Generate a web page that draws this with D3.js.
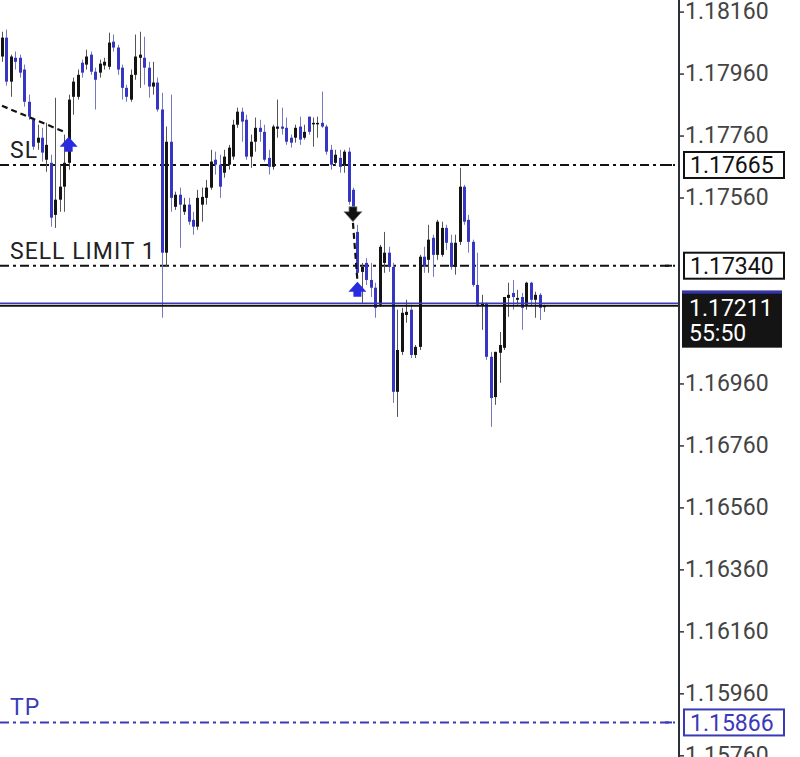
<!DOCTYPE html>
<html><head><meta charset="utf-8">
<script src="https://cdn.jsdelivr.net/npm/d3@7"></script>
<style>html,body{margin:0;padding:0;background:#fff;}svg{display:block;font-family:Roboto,"Noto Sans",sans-serif;}</style>
</head><body>
<svg id="chart" width="800" height="757"></svg>
<script>
const openP = [1.18015,1.18076,1.17934,1.18011,1.18011,1.17973,1.17869,1.17811,1.17737,1.17753,
1.17682,1.17672,1.17504,1.17553,1.17595,1.17672,1.17885,1.17885,1.17995,1.17989,
1.18021,1.17966,1.17963,1.17986,1.17982,1.18063,1.18044,1.17979,1.17914,1.17876,
1.17956,1.18011,1.18011,1.17979,1.17918,1.17931,1.17844,1.17382,1.17740,1.17530,
1.17569,1.17514,1.17537,1.17488,1.17466,1.17537,1.17559,1.17592,1.17682,1.17666,
1.17640,1.17666,1.17692,1.17795,1.17837,1.17811,1.17692,1.17740,1.17785,1.17772,
1.17688,1.17659,1.17782,1.17789,1.17785,1.17753,1.17753,1.17789,1.17753,1.17821,
1.17798,1.17798,1.17801,1.17789,1.17714,1.17672,1.17688,1.17666,1.17708,1.17585,
1.17449,1.17320,1.17349,1.17294,1.17269,1.17214,1.17349,1.17382,1.17336,1.16933,
1.17062,1.17181,1.17198,1.17052,1.17078,1.17369,1.17359,1.17430,1.17375,1.17375,
1.17462,1.17414,1.17336,1.17417,1.17595,1.17488,1.17417,1.17278,1.17210,1.17220,
1.17046,1.16916,1.17059,1.17075,1.17236,1.17252,1.17230,1.17239,1.17214,1.17285,
1.17230,1.17246,1.17207];
const highP = [1.18095,1.18102,1.18021,1.18031,1.18021,1.17989,1.17892,1.17818,1.17795,1.17785,
1.17801,1.17698,1.17882,1.17666,1.17763,1.17892,1.17947,1.17973,1.18005,1.18037,
1.18031,1.17979,1.18005,1.18011,1.18092,1.18086,1.18053,1.17989,1.17924,1.17973,
1.18086,1.18095,1.18079,1.17998,1.17998,1.17947,1.17898,1.17789,1.17892,1.17579,
1.17592,1.17559,1.17559,1.17514,1.17585,1.17592,1.17617,1.17714,1.17708,1.17698,
1.17714,1.17730,1.17811,1.17850,1.17850,1.17827,1.17763,1.17818,1.17811,1.17795,
1.17714,1.17795,1.17876,1.17850,1.17818,1.17763,1.17795,1.17821,1.17795,1.17821,
1.17818,1.17821,1.17902,1.17795,1.17730,1.17714,1.17714,1.17714,1.17721,1.17592,
1.17472,1.17349,1.17365,1.17349,1.17285,1.17407,1.17449,1.17401,1.17349,1.17198,
1.17204,1.17230,1.17214,1.17084,1.17375,1.17401,1.17472,1.17440,1.17488,1.17482,
1.17472,1.17440,1.17440,1.17656,1.17601,1.17504,1.17424,1.17382,1.17246,1.17220,
1.17062,1.17062,1.17126,1.17239,1.17285,1.17294,1.17262,1.17252,1.17288,1.17288,
1.17256,1.17252,1.17214];
const lowP = [1.17998,1.17921,1.17885,1.17973,1.17947,1.17853,1.17811,1.17714,1.17714,1.17676,
1.17643,1.17466,1.17462,1.17514,1.17514,1.17650,1.17827,1.17876,1.17947,1.17973,
1.17956,1.17844,1.17947,1.17973,1.17973,1.18031,1.17956,1.17876,1.17869,1.17869,
1.17940,1.17914,1.17924,1.17882,1.17892,1.17837,1.17172,1.17336,1.17514,1.17520,
1.17398,1.17504,1.17472,1.17440,1.17456,1.17482,1.17537,1.17585,1.17634,1.17559,
1.17624,1.17650,1.17682,1.17785,1.17740,1.17682,1.17656,1.17708,1.17740,1.17676,
1.17634,1.17650,1.17753,1.17763,1.17730,1.17721,1.17737,1.17730,1.17747,1.17763,
1.17724,1.17753,1.17785,1.17698,1.17650,1.17663,1.17640,1.17640,1.17537,1.17520,
1.17304,1.17220,1.17278,1.17239,1.17172,1.17207,1.17317,1.17320,1.16897,1.16852,
1.17052,1.17156,1.17042,1.17042,1.17068,1.17317,1.17317,1.17304,1.17359,1.17369,
1.17391,1.17327,1.17311,1.17407,1.17472,1.17382,1.17272,1.17207,1.17133,1.17036,
1.16820,1.16891,1.16962,1.17068,1.17175,1.17198,1.17214,1.17133,1.17198,1.17207,
1.17172,1.17165,1.17191];
const closeP = [1.18076,1.17934,1.18015,1.17998,1.17963,1.17869,1.17821,1.17724,1.17753,1.17705,
1.17730,1.17495,1.17553,1.17595,1.17672,1.17876,1.17934,1.17956,1.17963,1.18015,
1.17966,1.17940,1.17992,1.17998,1.18060,1.18044,1.17973,1.17914,1.17885,1.17956,
1.18015,1.18021,1.17979,1.17918,1.17931,1.17844,1.17382,1.17740,1.17559,1.17569,
1.17537,1.17537,1.17482,1.17466,1.17559,1.17562,1.17592,1.17676,1.17666,1.17595,
1.17692,1.17721,1.17795,1.17837,1.17805,1.17692,1.17740,1.17785,1.17772,1.17682,
1.17659,1.17789,1.17789,1.17782,1.17740,1.17737,1.17785,1.17747,1.17772,1.17772,
1.17801,1.17801,1.17789,1.17708,1.17666,1.17698,1.17659,1.17708,1.17546,1.17530,
1.17317,1.17336,1.17294,1.17269,1.17204,1.17401,1.17382,1.17336,1.16933,1.17068,
1.17188,1.17191,1.17052,1.17078,1.17369,1.17340,1.17424,1.17375,1.17482,1.17462,
1.17414,1.17336,1.17414,1.17595,1.17482,1.17417,1.17278,1.17214,1.17220,1.17046,
1.16913,1.17062,1.17084,1.17239,1.17246,1.17239,1.17236,1.17204,1.17285,1.17230,
1.17246,1.17204,1.17211];

const tickValues = [1.18160,1.17960,1.17760,1.17560,1.17360,1.17160,1.16960,1.16760,1.16560,1.16360,1.16160,1.15960,1.15760];
const levelNames = ["SL","SELL LIMIT 1","TP"];
const levelPrices = [1.17665,1.17340,1.15866];
const levelKinds = ["black","black","blue"];
const bidPrice = 1.17211;
const timerText = "55:50";
// trade markers: candle index, price, direction, colour kind
const arrowIdx = [15,79,80];
const arrowPrice = [1.17756,1.17482,1.17288];
const arrowDir = ["up","down","up"];
const arrowKind = ["blue","black","blue"];
// trade connection lines
const tradeStartIdx = [0,79];
const tradeStartPrice = [1.17856,1.17478];
const tradeEndIdx = [14,80];
const tradeEndPrice = [1.17772,1.17291];

const BLUE = "#3636c4", BLACK = "#141414", LBLUE = "#3a3ab8";
const W = 800, H = 757, AXIS_X = 679;
const svg = d3.select("#chart");
svg.append("rect").attr("width",W).attr("height",H).attr("fill","#ffffff");

const x = d3.scaleLinear().domain([0, openP.length-1]).range([2, 544]);
const y = d3.scaleLinear().domain([1.18160, 1.15760]).range([11.6, 755.3]);

const candles = openP.map((o,i)=>({i,o,h:highP[i],l:lowP[i],c:closeP[i]}));

// level lines
const lv = levelPrices.map((p,k)=>({p,name:levelNames[k],kind:levelKinds[k]}));
svg.selectAll("line.level").data(lv).join("line").attr("class","level")
  .attr("x1",0).attr("x2",AXIS_X-4)
  .attr("y1",d=>y(d.p)).attr("y2",d=>y(d.p))
  .attr("stroke",d=>d.kind==="blue"?LBLUE:"#111")
  .attr("stroke-width",2).attr("stroke-dasharray","9,4,3,4");
svg.selectAll("text.lvname").data(lv).join("text").attr("class","lvname")
  .attr("x",10).attr("y",d=>y(d.p)-7)
  .attr("font-size",23).attr("letter-spacing",1).attr("fill",d=>d.kind==="blue"?LBLUE:"#222")
  .text(d=>d.name);

// candles
const cg = svg.append("g");
cg.selectAll("line.wick").data(candles).join("line").attr("class","wick")
  .attr("x1",d=>Math.round(x(d.i))+0.5).attr("x2",d=>Math.round(x(d.i))+0.5)
  .attr("y1",d=>y(d.h)).attr("y2",d=>y(d.l))
  .attr("stroke",d=>d.c<d.o?"#7479c2":"#555").attr("stroke-width",1);
cg.selectAll("rect.body").data(candles).join("rect").attr("class","body")
  .attr("x",d=>Math.round(x(d.i))-1).attr("width",3)
  .attr("y",d=>y(Math.max(d.o,d.c)))
  .attr("height",d=>Math.max(1.5, y(Math.min(d.o,d.c))-y(Math.max(d.o,d.c))))
  .attr("fill",d=>d.c<d.o?BLUE:BLACK);

// bid lines
svg.append("line").attr("x1",0).attr("x2",AXIS_X).attr("y1",y(bidPrice)-2.5).attr("y2",y(bidPrice)-2.5)
  .attr("stroke",LBLUE).attr("stroke-width",1.5);
svg.append("line").attr("x1",0).attr("x2",AXIS_X).attr("y1",y(bidPrice)).attr("y2",y(bidPrice))
  .attr("stroke","#111").attr("stroke-width",2);

// trade lines
const trades = tradeStartIdx.map((s,k)=>({s,sp:tradeStartPrice[k],e:tradeEndIdx[k],ep:tradeEndPrice[k]}));
svg.selectAll("line.trade").data(trades).join("line").attr("class","trade")
  .attr("x1",d=>x(d.s)).attr("y1",d=>y(d.sp)).attr("x2",d=>x(d.e)).attr("y2",d=>y(d.ep))
  .attr("stroke","#111").attr("stroke-width",2.2).attr("stroke-dasharray","6,4");

// arrows
const arrows = arrowIdx.map((ix,k)=>({ix,p:arrowPrice[k],dir:arrowDir[k],kind:arrowKind[k]}));
svg.selectAll("path.arrow").data(arrows).join("path").attr("class","arrow")
  .attr("d",d=>{
    const cx = x(d.ix), ty = y(d.p), s = d.dir==="up"?1:-1;
    const p = d3.path();
    p.moveTo(cx, ty);
    p.lineTo(cx+9, ty+s*10);
    p.lineTo(cx+4, ty+s*10);
    p.lineTo(cx+4, ty+s*15);
    p.lineTo(cx-4, ty+s*15);
    p.lineTo(cx-4, ty+s*10);
    p.lineTo(cx-9, ty+s*10);
    p.closePath();
    return p.toString();
  })
  .attr("fill",d=>d.kind==="blue"?"#2a2ae0":"#111")
  .attr("stroke",d=>d.kind==="blue"?"none":"#888").attr("stroke-width",0.8);

// price axis (tick labels hidden behind the price boxes are not drawn)
svg.append("line").attr("x1",AXIS_X).attr("x2",AXIS_X).attr("y1",0).attr("y2",H)
  .attr("stroke","#2b2f3a").attr("stroke-width",2);
const boxCentres = levelPrices.map(p=>y(p)).concat([y(bidPrice)+13]);
const shownTicks = tickValues.filter(t=>{
  const ty = y(t);
  return !levelPrices.some(p=>Math.abs(y(p)-ty)<24) && !(ty>y(bidPrice)-20 && ty<y(bidPrice)+50);
});
const axis = d3.axisRight(y).tickValues(shownTicks).tickFormat(d3.format(".5f")).tickSize(5).tickPadding(1);
const ag = svg.append("g").attr("transform",`translate(${AXIS_X},0)`).call(axis);
ag.select(".domain").remove();
ag.selectAll(".tick line").attr("stroke","#333").attr("stroke-width",1.5);
ag.selectAll(".tick text").attr("font-size",23).attr("fill","#444").attr("font-family","Roboto");

// level boxes
const bg = svg.selectAll("g.lvbox").data(lv).join("g").attr("class","lvbox")
  .attr("transform",d=>`translate(0,${y(d.p)})`);
bg.append("rect").attr("x",665).attr("y",-1).attr("width",7).attr("height",2)
  .attr("fill",d=>d.kind==="blue"?LBLUE:"#111");
bg.append("rect").attr("x",684).attr("y",-13).attr("width",100).attr("height",26)
  .attr("fill","#fff").attr("stroke",d=>d.kind==="blue"?LBLUE:"#111").attr("stroke-width",2);
bg.append("text").attr("x",690).attr("y",8.5).attr("font-size",23)
  .attr("fill",d=>d.kind==="blue"?LBLUE:"#111").text(d=>d3.format(".5f")(d.p));

// bid box
const bb = svg.append("g").attr("transform",`translate(0,${y(bidPrice)})`);
bb.append("rect").attr("x",682).attr("y",-15).attr("width",100).attr("height",57).attr("fill","#141414");
bb.append("rect").attr("x",682).attr("y",-15).attr("width",100).attr("height",3).attr("fill","#3434b0");
bb.append("text").attr("x",689).attr("y",10).attr("font-size",23).attr("fill","#fff").text(d3.format(".5f")(bidPrice));
bb.append("text").attr("x",689).attr("y",35).attr("font-size",23).attr("fill","#fff").text(timerText);
</script>
</body></html>
